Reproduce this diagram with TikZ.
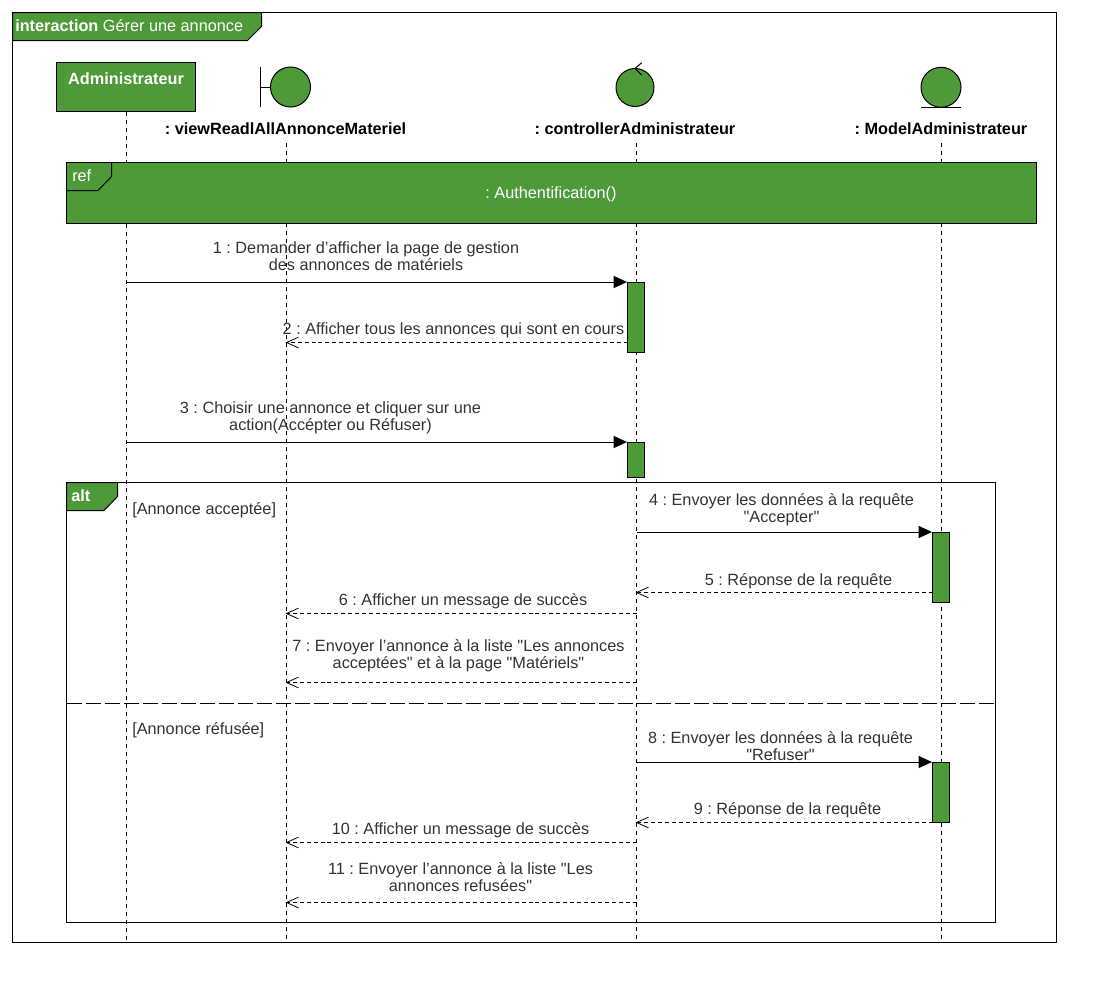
\documentclass[tikz,border=0pt]{standalone}
\usepackage{fontspec}
\setmainfont{Liberation Sans}[Ligatures=TeXOff]
\usetikzlibrary{arrows.meta}
\definecolor{umlgreen}{RGB}{78,154,56}
\definecolor{msgcolor}{RGB}{51,51,51}
\tikzset{
	lifeline/.style={black, line width=.75pt, dash pattern=on 3pt off 3pt},
	msg/.style={black, line width=.75pt, -{Triangle[length=10pt,width=9pt]}},
	reply/.style={black, line width=.6pt, dash pattern=on 3pt off 2.2pt, -{Straight Barb[length=9pt,width=8pt]}},
	msglabel/.style={text=msgcolor, align=center, inner sep=0pt, font=\fontsize{12.2}{12.75}\selectfont\frenchspacing},
	lifename/.style={black, inner sep=0pt, font=\fontsize{12.2}{12.75}\selectfont\bfseries\frenchspacing},
	whitetext/.style={white, inner sep=0pt, anchor=west, font=\fontsize{12.2}{12.75}\selectfont\frenchspacing},
	actbar/.style={draw=black, fill=umlgreen, line width=.75pt, minimum width=12.75pt, inner sep=0pt, anchor=north},
	umlshape/.style={draw=black, fill=umlgreen, line width=.75pt},
	frameline/.style={draw=black, line width=.75pt}
}
\begin{document}
\begin{tikzpicture}[x=.75pt, y=-.75pt]
	\useasboundingbox (0,0) rectangle (1115,992);
	% outer frame
	\draw[frameline] (12.5,12.5) rectangle (1056.5,942.5);
	\draw[umlshape] (12.5,12.5) -- (261.5,12.5) -- (261.5,26.5) -- (247.5,40.5) -- (12.5,40.5) -- cycle;
	\node[whitetext] (title) at (15,25.5) {\textbf{interaction} Gérer une annonce};
	% participants
	\node[umlshape, minimum width=104.6pt, minimum height=36.75pt, inner sep=0pt] (admin) at (125.75,86.5) {};
	\node[white, inner sep=0pt, font=\fontsize{12.2}{12.75}\selectfont\bfseries] (adminname) at (126,79) {Administrateur};
	\node[umlshape, circle, minimum size=30pt, inner sep=0pt] (view) at (290.5,87) {};
	\coordinate (viewbar) at (260.5,87);
	\draw[frameline] (260.5,67) -- (260.5,107);
	\draw[frameline] (viewbar) -- (view.west);
	\node[umlshape, circle, minimum size=28.5pt, inner sep=0pt] (ctrl) at (635,87.5) {};
	\draw[frameline] (641.7,62.7) -- (635,68.5) -- (641.7,75);
	\node[umlshape, circle, minimum size=30pt, inner sep=0pt] (model) at (941,87.3) {};
	\draw[frameline] (921,107.5) -- (961,107.5);
	\node[lifename] (viewname) at (285.5,129) {: viewReadlAllAnnonceMateriel};
	\node[lifename] (ctrlname) at (635,129) {: controllerAdministrateur};
	\node[lifename] (modelname) at (941,129) {: ModelAdministrateur};
	% lifelines
	\coordinate (adminend) at (126.5,942);
	\coordinate (viewend) at (286.5,942);
	\coordinate (ctrlend) at (636.5,942);
	\coordinate (modelend) at (941.5,942);
	\coordinate (adminstart) at (126.5,111.5);
	\coordinate (viewstart) at (286.5,143);
	\coordinate (ctrlstart) at (636.5,143);
	\coordinate (modelstart) at (941.5,143);
	\draw[lifeline] (adminstart) -- (adminend);
	\draw[lifeline] (viewstart) -- (viewend);
	\draw[lifeline] (ctrlstart) -- (ctrlend);
	\draw[lifeline] (modelstart) -- (modelend);
	% ref
	\draw[umlshape] (66.5,162.5) rectangle (1036.5,223.5);
	\draw[frameline] (66.5,190.5) -- (98,190.5) -- (111.5,176.5) -- (111.5,162.5);
	\node[whitetext] (reflabel) at (72,176) {ref};
	\node[white, inner sep=0pt, font=\fontsize{12.2}{12.75}\selectfont\frenchspacing] (refname) at (551,194) {: Authentification()};
	% activations
	\node[actbar, minimum height=52.5pt] (bar1) at (636,282) {};
	\node[actbar, minimum height=26.25pt] (bar2) at (636,442) {};
	\node[actbar, minimum height=52.5pt] (bar3) at (941,532) {};
	\node[actbar, minimum height=45pt] (bar4) at (941,762) {};
	% first messages
	\coordinate (a1) at (126.5,282);
	\coordinate (a3) at (126.5,442);
	\coordinate (v2) at (285.5,342.5);
	\coordinate (b2) at (627.5,342.5);
	\draw[msg] (a1) -- (bar1.north west);
	\draw[reply] (b2) -- (v2);
	\draw[msg] (a3) -- (bar2.north west);
	\node[msglabel] (m1) at (366,256.5) {1 : Demander d’afficher la page de gestion\\des annonces de matériels};
	\node[msglabel] (m2) at (453.5,330) {2 : Afficher tous les annonces qui sont en cours};
	\node[msglabel] (m3) at (330.5,417.5) {3 : Choisir une annonce et cliquer sur une\\action(Accépter ou Réfuser)};
	% alt
	\draw[frameline] (66.5,482.5) rectangle (995.5,922.5);
	\draw[umlshape] (66.5,482.5) -- (117.5,482.5) -- (117.5,496.5) -- (104,510.5) -- (66.5,510.5) -- cycle;
	\node[whitetext, font=\fontsize{12.2}{12.75}\selectfont\bfseries] (altlabel) at (71,496) {alt};
	\coordinate (altleft) at (66.5,703.5);
	\coordinate (altright) at (995.5,703.5);
	\draw[black, line width=.85pt, dash pattern=on 11.25pt off 3pt] (altleft) -- (altright);
	\node[msglabel, anchor=west] (guard1) at (132,510.5) {[Annonce acceptée]};
	\node[msglabel, anchor=west] (guard2) at (132,730.5) {[Annonce réfusée]};
	% branch messages
	\coordinate (c4) at (636.5,532);
	\coordinate (c5) at (635.5,592.5);
	\coordinate (b5) at (932.5,592.5);
	\coordinate (c6) at (636.5,613.5);
	\coordinate (v6) at (285.5,613.5);
	\coordinate (c7) at (636.5,682.5);
	\coordinate (v7) at (285.5,682.5);
	\coordinate (c8) at (636.5,762);
	\coordinate (c9) at (635.5,822.5);
	\coordinate (b9) at (932.5,822.5);
	\coordinate (c10) at (636.5,842.5);
	\coordinate (v10) at (285.5,842.5);
	\coordinate (c11) at (636.5,902.5);
	\coordinate (v11) at (285.5,902.5);
	\draw[msg] (c4) -- (bar3.north west);
	\draw[reply] (b5) -- (c5);
	\draw[reply] (c6) -- (v6);
	\draw[reply] (c7) -- (v7);
	\draw[msg] (c8) -- (bar4.north west);
	\draw[reply] (b9) -- (c9);
	\draw[reply] (c10) -- (v10);
	\draw[reply] (c11) -- (v11);
	\node[msglabel] (m4) at (781.5,509.5) {4 : Envoyer les données à la requête\\"Accepter"};
	\node[msglabel] (m5) at (798.5,581) {5 : Réponse de la requête};
	\node[msglabel] (m6) at (463,601) {6 : Afficher un message de succès};
	\node[msglabel] (m7) at (458.5,655.5) {7 : Envoyer l’annonce à la liste "Les annonces\\acceptées" et à la page "Matériels"};
	\node[msglabel] (m8) at (780.5,746.5) {8 : Envoyer les données à la requête\\"Refuser"};
	\node[msglabel] (m9) at (787.5,810) {9 : Réponse de la requête};
	\node[msglabel] (m10) at (460.5,830) {10 : Afficher un message de succès};
	\node[msglabel] (m11) at (460.5,877.5) {11 : Envoyer l’annonce à la liste "Les\\annonces refusées"};
\end{tikzpicture}
\end{document}
